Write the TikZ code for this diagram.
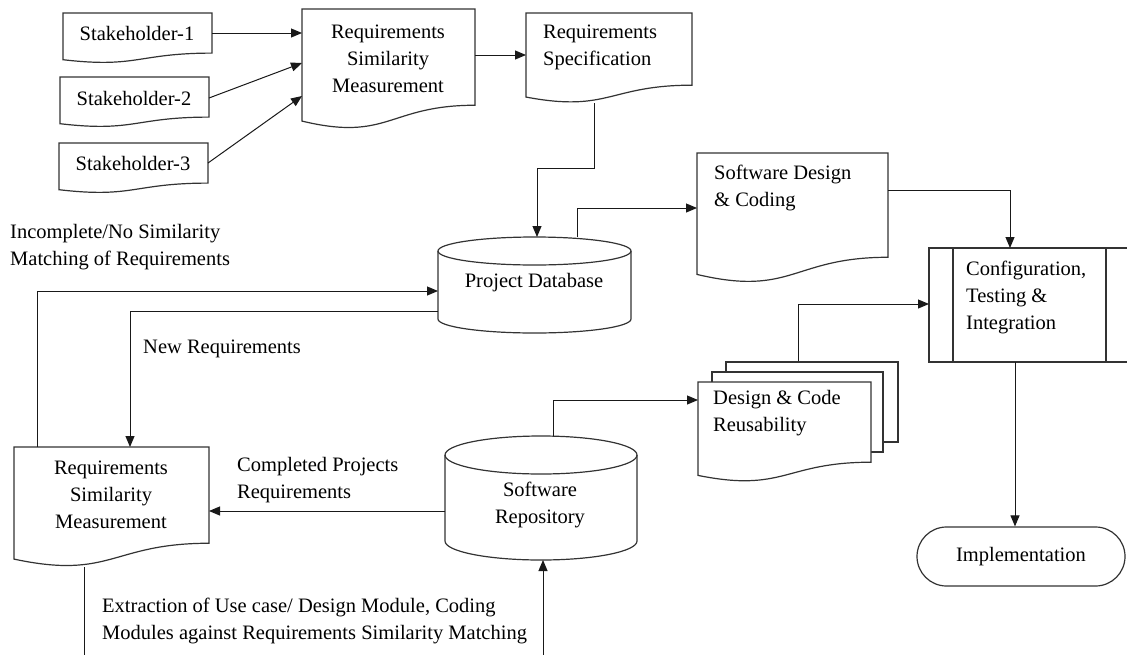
\documentclass[tikz,border=0pt]{standalone}
\usepackage{fontspec}
\setmainfont{Liberation Serif}
\usetikzlibrary{calc,arrows.meta,shapes.misc}
\tikzset{
  shp/.style={draw=black!80, line width=1.2pt, fill=white},
  box/.style={draw=none, inner sep=0pt, outer sep=0pt},
  conn/.style={draw=black!90, line width=1pt},
  arr/.style={conn, -{Triangle[length=11pt,width=9pt]}},
  txt/.style={font=\fontsize{20.5}{27}\selectfont, inner sep=0pt, text=black},
}
\newcommand\docpath[1]{%
  \draw[shp] (#1.north west) -- (#1.north east) -- ($(#1.north east)!0.802!(#1.south east)$)
    .. controls ($(#1.north)!0.802!(#1.south)$) and ($(#1.north)!1.108!(#1.south)$) ..
    ($(#1.north west)!0.934!(#1.south west)$) -- cycle;}
\newcommand\cylpath[3]{%
  \draw[shp] ($(#1.north west)+(0,#3)$) -- ($(#1.south west)-(0,#3)$)
    arc[start angle=180,end angle=360,x radius=#2pt,y radius=#3pt]
    -- ($(#1.north east)+(0,#3)$)
    arc[start angle=0,end angle=180,x radius=#2pt,y radius=#3pt] -- cycle;
  \draw[shp,fill=none] ($(#1.north west)+(0,#3)$)
    arc[start angle=180,end angle=360,x radius=#2pt,y radius=#3pt];}
\begin{document}
\begin{tikzpicture}[x=1pt,y=-1pt]
\clip (0,0) rectangle (1127,654);
\fill[white] (0,0) rectangle (1127,654);
% stakeholders
\node[box, minimum width=149, minimum height=50] (s1) at (137.5,38) {};
\node[box, minimum width=149, minimum height=50] (s2) at (134.5,102) {};
\node[box, minimum width=149, minimum height=50] (s3) at (133.5,168) {};
\docpath{s1}\docpath{s2}\docpath{s3}
\node[txt] (s1t) at (137,33) {Stakeholder-1};
\node[txt] (s2t) at (134,98) {Stakeholder-2};
\node[txt] (s3t) at (133,163) {Stakeholder-3};
% requirements similarity (top)
\node[box, minimum width=173, minimum height=120] (rsm1) at (388.5,69) {};
\docpath{rsm1}
\node[txt, align=center] (rsm1t) at (388,59) {Requirements\\Similarity\\Measurement};
% requirements specification
\node[box, minimum width=166, minimum height=90] (rspec) at (609,58) {};
\docpath{rspec}
\node[txt, align=left, anchor=west] (rspect) at (543,47) {Requirements\\Specification};
% software design & coding
\node[box, minimum width=191, minimum height=130] (sdc) at (792.5,218) {};
\docpath{sdc}
\node[txt, align=left, anchor=west] (sdct) at (714,188) {Software Design\\\& Coding};
% project database
\node[box, minimum width=193, minimum height=96] (pdb) at (534.5,285) {};
\cylpath{pdb}{96.5}{14}
\node[txt] (pdbt) at (534,283) {Project Database};
% configuration
\node[box, minimum width=206, minimum height=114] (cfg) at (1032,305) {};
\draw[shp] (cfg.north west) rectangle (cfg.south east);
\draw[shp] (cfg.north -| 953,0) -- (cfg.south -| 953,0);
\draw[shp] (cfg.north -| 1106,0) -- (cfg.south -| 1106,0);
\node[txt, align=left, anchor=west] (cfgt) at (966,297) {Configuration,\\Testing \&\\Integration};
% design & code reusability (multi-document)
\node[shp, inner sep=0pt, minimum width=172, minimum height=80] (dcrb) at (812,402) {};
\node[shp, inner sep=0pt, minimum width=171, minimum height=80] (dcrm) at (797.5,412) {};
\node[box, minimum width=173, minimum height=100] (dcrf) at (784.5,432) {};
\docpath{dcrf}
\node[txt, align=left, anchor=west] (dcrt) at (713,413) {Design \& Code\\Reusability};
% software repository
\node[box, minimum width=192, minimum height=124] (srep) at (541,498) {};
\cylpath{srep}{96}{19}
\node[txt, align=center] (srept) at (540,505) {Software\\Repository};
% requirements similarity (bottom)
\node[box, minimum width=195, minimum height=120] (rsm2) at (111.5,507) {};
\docpath{rsm2}
\node[txt, align=center] (rsm2t) at (111,495) {Requirements\\Similarity\\Measurement};
% implementation
\node[draw=black!80, line width=1.2pt, rounded rectangle, inner sep=0pt, minimum width=208, minimum height=59, txt] (impl) at (1021,556.5) {Implementation};
% labels
\node[txt, align=left, anchor=west] (lab1) at (10,247) {Incomplete/No Similarity\\Matching of Requirements};
\node[txt, anchor=west] (lab2) at (143,349) {New Requirements};
\node[txt, align=left, anchor=west] (lab3) at (237,480) {Completed Projects\\Requirements};
\node[txt, align=left, anchor=west] (lab4) at (102,621) {Extraction of Use case/ Design Module, Coding\\Modules against Requirements Similarity Matching};
% off-page ends
\coordinate (offA) at (84,664);
\coordinate (offB) at (543,664);
% connectors
\draw[arr] (s1.east |- 0,33) -- (rsm1.west |- 0,33);
\draw[arr] (s2.east |- 0,98) -- (rsm1.west |- 0,63);
\draw[arr] (s3.east |- 0,163) -- (rsm1.west |- 0,96);
\draw[arr] (rsm1.east |- 0,55) -- (rspec.west |- 0,55);
\draw[arr] (rspec.south -| 594,0) -- (594,168) -| (pdb.north -| 537,0);
\draw[arr] (pdb.north -| 577,0) |- (sdc.west |- 0,208);
\draw[arr] (sdc.east |- 0,190) -| (cfg.north -| 1010,0);
\draw[arr] (dcrb.north -| 798,0) |- (cfg.west |- 0,304);
\draw[arr] (cfg.south -| 1015,0) -- (impl.north -| 1015,0);
\draw[arr] (srep.north -| 553,0) |- (dcrf.west |- 0,400);
\draw[arr] (srep.west |- 0,511) -- (rsm2.east |- 0,511);
\draw[arr] (rsm2.north -| 37,0) |- (pdb.west |- 0,291);
\draw[arr] (pdb.west |- 0,311) -| (rsm2.north -| 130,0);
\draw[conn] (rsm2.south -| 84,0) -- (offA);
\draw[arr] (offB) -- (srep.south -| 543,0);
\end{tikzpicture}
\end{document}
